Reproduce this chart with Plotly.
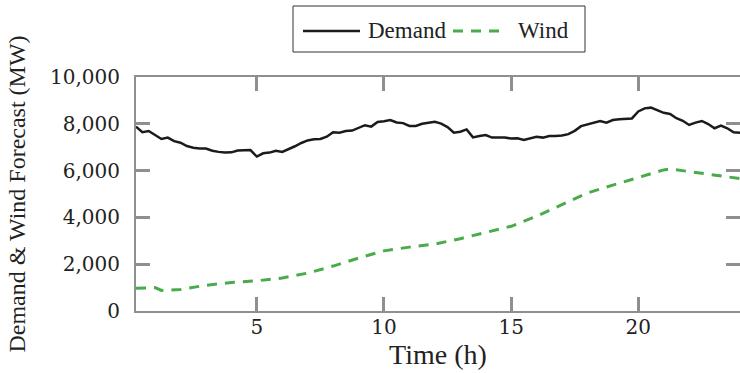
import plotly.graph_objects as go

# ---- data ----
time_demand = [i * 0.25 for i in range(1, 97)]  # 0.25 h .. 24 h (15-min steps)
demand = [
    7880, 7640, 7690, 7520, 7350, 7410, 7260, 7190, 7050, 6980, 6940, 6940,
    6850, 6800, 6770, 6780, 6860, 6870, 6880, 6600, 6740, 6770, 6850, 6800,
    6910, 7040, 7180, 7290, 7340, 7350, 7450, 7640, 7620, 7690, 7710, 7810,
    7940, 7880, 8080, 8110, 8160, 8060, 8030, 7910, 7910, 8000, 8060, 8090,
    8010, 7860, 7620, 7660, 7760, 7420, 7480, 7520, 7410, 7410, 7410, 7370,
    7380, 7310, 7380, 7450, 7410, 7480, 7480, 7500, 7560, 7700, 7900, 7970,
    8030, 8120, 8050, 8160, 8190, 8210, 8230, 8530, 8660, 8690, 8590, 8470,
    8420, 8240, 8130, 7950, 8050, 8120, 7990, 7810, 7920, 7810, 7640, 7620,
]
time_wind = [0.25, 1.0, 1.25, 2, 3, 4, 5, 6, 7, 8, 9, 10, 11, 12, 13, 14, 15,
             16, 17, 18, 19, 20, 21, 21.25, 22, 23, 24]
wind = [970, 1000, 880, 920, 1100, 1220, 1290, 1410, 1620, 1920, 2260, 2570,
        2730, 2860, 3090, 3350, 3620, 4050, 4530, 5040, 5380, 5700, 6030, 6070,
        5960, 5800, 5660]
x_ticks = [5, 10, 15, 20]
y_ticks = [0, 2000, 4000, 6000, 8000, 10000]
series_names = ["Demand", "Wind"]

# ---- layout constants ----
W, H = 740, 373
ML, MR, MT, MB = 136, 0, 77, 62
PW, PH = W - ML - MR, H - MT - MB
FONT = "Liberation Serif"
TICKFONT = "DejaVu Serif"
GREEN = "#4aab4a"
AXC = "#8f8f8f"
TXT = "#222"


def px2paper(px, py):
    return (px - ML) / PW, (H - MB - py) / PH


fig = go.Figure()
fig.add_trace(go.Scatter(x=time_demand, y=demand, mode="lines", name=series_names[0],
                         line=dict(color="#1b1b1b", width=2.5), showlegend=False))
fig.add_trace(go.Scatter(x=time_wind, y=wind, mode="lines", name=series_names[1],
                         line=dict(color=GREEN, width=3, dash="10px,8px"), showlegend=False))

axis_common = dict(showline=True, linecolor=AXC, linewidth=2, mirror="ticks",
                   ticks="inside", ticklen=14, tickwidth=3, tickcolor=AXC,
                   showgrid=False, zeroline=False, automargin=False,
                   tickfont=dict(family=TICKFONT, size=20, color=TXT))

fig.update_xaxes(range=[0.25, 24], tickvals=x_ticks, ticklabelstandoff=-3,
                 title=dict(text="Time (h)", font=dict(family=FONT, size=28, color=TXT), standoff=5),
                 **axis_common)
fig.update_yaxes(range=[0, 10000], tickvals=y_ticks, tickformat=",d", ticklabelstandoff=10,
                 title=dict(text="Demand & Wind Forecast (MW)", font=dict(family=FONT, size=24, color=TXT), standoff=18),
                 **axis_common)

# ---- legend drawn as decoration ----
bx0, by0 = px2paper(293, 52)
bx1, by1 = px2paper(585, 6)
shapes = [dict(type="rect", xref="paper", yref="paper", x0=bx0, y0=by0, x1=bx1, y1=by1,
               line=dict(color="#333", width=1), fillcolor="white", layer="above")]
ly = 31
a0, ya = px2paper(303, ly)
a1, _ = px2paper(360, ly)
shapes.append(dict(type="line", xref="paper", yref="paper", x0=a0, y0=ya, x1=a1, y1=ya,
                   line=dict(color="#1b1b1b", width=2.5)))
w0, _ = px2paper(453, ly)
w1, _ = px2paper(503, ly)
shapes.append(dict(type="line", xref="paper", yref="paper", x0=w0, y0=ya, x1=w1, y1=ya,
                   line=dict(color=GREEN, width=3, dash="10px,8px")))
t0, ty = px2paper(366, 30)
t1, _ = px2paper(516, 30)
annotations = [
    dict(xref="paper", yref="paper", x=t0, y=ty, xanchor="left", yanchor="middle",
         text=series_names[0], showarrow=False, font=dict(family=FONT, size=23, color=TXT)),
    dict(xref="paper", yref="paper", x=t1, y=ty, xanchor="left", yanchor="middle",
         text=series_names[1], showarrow=False, font=dict(family=FONT, size=23, color=TXT)),
]

fig.update_layout(width=W, height=H, margin=dict(l=ML, r=MR, t=MT, b=MB),
                  paper_bgcolor="white", plot_bgcolor="white",
                  shapes=shapes, annotations=annotations, showlegend=False,
                  font=dict(family=FONT))

fig.write_html("out.html", config={"displayModeBar": False},
               post_script="document.body.style.margin='0';")
